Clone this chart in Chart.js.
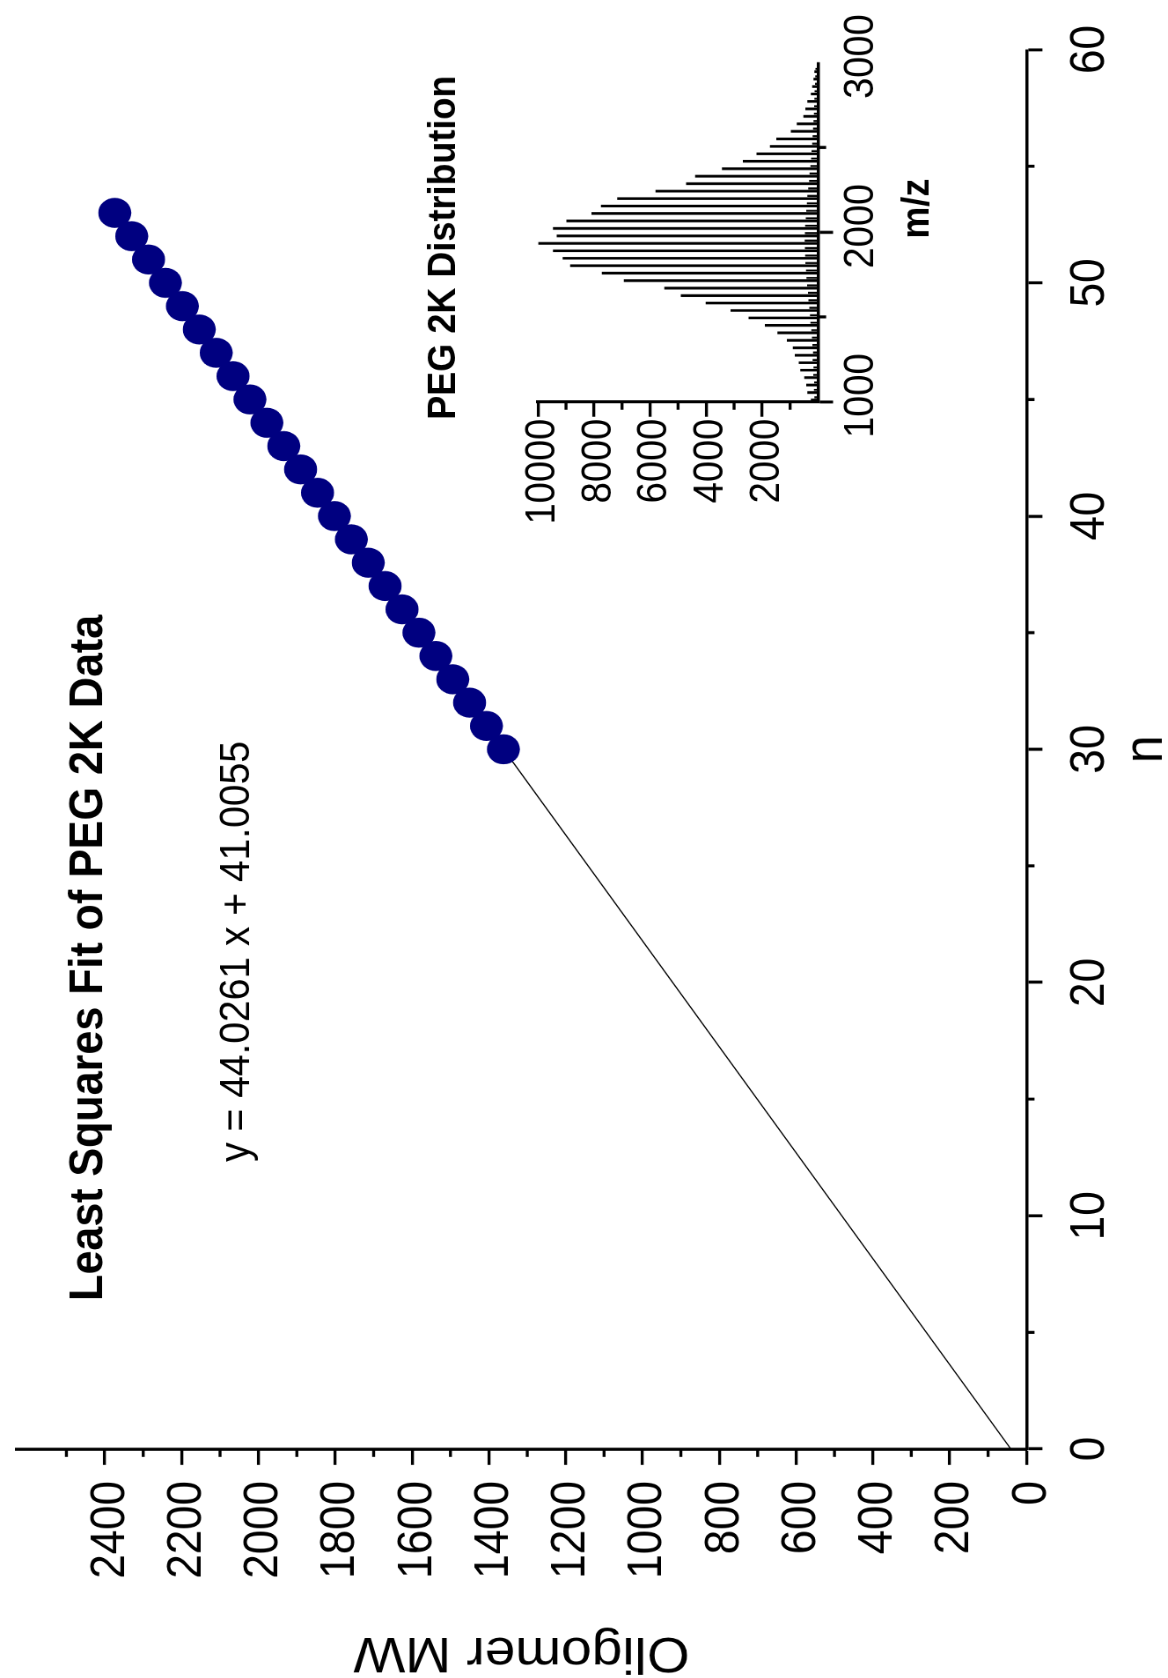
<!DOCTYPE html>
<html>
<head>
<meta charset="utf-8">
<title>Least Squares Fit of PEG 2K Data</title>
<script src="https://cdn.jsdelivr.net/npm/chart.js@4.4.1/dist/chart.umd.min.js"></script>
<style>
  html, body { margin: 0; padding: 0; background: #fff; overflow: hidden; }
  /* the figure is laid out landscape and turned a quarter turn, slightly stretched across */
  #stage {
    position: absolute; left: 0; top: 0;
    width: 1678px; height: 1062px;
    transform-origin: 0 0;
    transform: translateY(1678px) rotate(-90deg) scaleY(1.0998);
  }
  #stage canvas { position: absolute; left: 0; top: 0; }
</style>
</head>
<body>
<div id="stage">
  <canvas id="mainChart" width="1678" height="1062"></canvas>
  <canvas id="insetChart" width="1678" height="1062"></canvas>
</div>
<script>
// main plot: oligomer number vs MW
const nValues = [30, 31, 32, 33, 34, 35, 36, 37, 38, 39, 40, 41, 42, 43, 44, 45, 46, 47, 48, 49, 50, 51, 52, 53];
const mwValues = [1362, 1406, 1450, 1494, 1538, 1582, 1626, 1670, 1714, 1758, 1802, 1846, 1890, 1934, 1978, 2022, 2066, 2110, 2154, 2198, 2242, 2286, 2330, 2374];
const fitN = [0, 53];
const fitMW = [41, 2374];
const nTicks = [0, 10, 20, 30, 40, 50, 60];
const nMinor = [5, 15, 25, 35, 45, 55];
const mwTicks = [0, 200, 400, 600, 800, 1000, 1200, 1400, 1600, 1800, 2000, 2200, 2400];
const mwMinor = [100, 300, 500, 700, 900, 1100, 1300, 1500, 1700, 1900, 2100, 2300, 2500];

// inset: PEG 2K mass spectrum
const mzMajor = [1010, 1054, 1098, 1142, 1186, 1230, 1274, 1318, 1362, 1406, 1450, 1494, 1538, 1582, 1626, 1670, 1714, 1758, 1802, 1846, 1890, 1934, 1978, 2022, 2066, 2110, 2154, 2198, 2242, 2286, 2330, 2374, 2418, 2462, 2506, 2550, 2595, 2639, 2683, 2727, 2771, 2815, 2859, 2903, 2947];
const intMajor = [250, 370, 410, 480, 620, 680, 820, 890, 1100, 1440, 1890, 2470, 3110, 4000, 4890, 5480, 6920, 7710, 8840, 9110, 9450, 9980, 9320, 9450, 8970, 8080, 7740, 7160, 5790, 4700, 4380, 3420, 2670, 2190, 1710, 1480, 960, 750, 510, 440, 370, 250, 200, 150, 120];
const mzMinor = [1026, 1070, 1114, 1158, 1202, 1246, 1290, 1334, 1378, 1422, 1466, 1510, 1554, 1598, 1642, 1686, 1730, 1774, 1818, 1862, 1906, 1950, 1994, 2038, 2082, 2126, 2170, 2214, 2258, 2302, 2346, 2390, 2434, 2478, 2522, 2566, 2611, 2655, 2699, 2743, 2787, 2831, 2875, 2919, 2963];
const intMinor = [120, 140, 130, 160, 150, 180, 170, 190, 210, 230, 260, 280, 300, 330, 350, 380, 400, 420, 440, 450, 460, 470, 460, 450, 430, 410, 390, 370, 340, 310, 290, 260, 240, 220, 200, 180, 170, 150, 140, 130, 120, 110, 100, 90, 80];
const mzTicks = [1000, 2000, 3000];
const mzMinorTicks = [1500, 2500];
const intTicks = [2000, 4000, 6000, 8000, 10000];
const intMinorTicks = [1000, 3000, 5000, 7000, 9000];

Chart.defaults.font.family = "'Liberation Sans', Arial, sans-serif";
Chart.defaults.color = "#000";

// short unlabelled ticks between the major ones
function minorTicks(id, marks) {
  return {
    id: id,
    afterDraw(chart) {
      const ctx = chart.ctx;
      marks.forEach((m) => {
        const scale = chart.scales[m.scale];
        ctx.save();
        ctx.strokeStyle = "#000";
        ctx.lineWidth = m.width;
        m.values.forEach((v) => {
          const p = scale.getPixelForValue(v);
          ctx.beginPath();
          if (scale.isHorizontal()) {
            ctx.moveTo(p, scale.top);
            ctx.lineTo(p, scale.top + m.length);
          } else {
            ctx.moveTo(scale.right, p);
            ctx.lineTo(scale.right - m.length, p);
          }
          ctx.stroke();
        });
        ctx.restore();
      });
    },
  };
}

// free text placed in data units
function textLabels(id, items) {
  return {
    id: id,
    afterDatasetsDraw(chart) {
      const ctx = chart.ctx;
      items.forEach((t) => {
        ctx.save();
        ctx.font = t.font;
        ctx.fillStyle = "#000";
        ctx.textAlign = t.align;
        ctx.textBaseline = "alphabetic";
        ctx.fillText(
          t.text,
          chart.scales.x.getPixelForValue(t.x),
          chart.scales.y.getPixelForValue(t.y)
        );
        ctx.restore();
      });
    },
  };
}

const fontFamily = "'Liberation Sans', Arial, sans-serif";

new Chart(document.getElementById("mainChart"), {
  type: "scatter",
  data: {
    datasets: [
      {
        label: "Oligomer MW",
        data: nValues.map((n, i) => ({ x: n, y: mwValues[i] })),
        backgroundColor: "#000080",
        borderWidth: 0,
        pointRadius: 15,
        pointHoverRadius: 15,
        order: 0,
      },
      {
        label: "Fit",
        data: fitN.map((n, i) => ({ x: n, y: fitMW[i] })),
        showLine: true,
        borderColor: "#000",
        borderWidth: 1.2,
        pointRadius: 0,
        order: 1,
      },
    ],
  },
  options: {
    responsive: false,
    animation: false,
    devicePixelRatio: 1.25,
    events: [],
    layout: { padding: { left: 0, right: 50, top: 11, bottom: 0 } },
    plugins: { legend: { display: false }, tooltip: { enabled: false } },
    scales: {
      x: {
        type: "linear",
        min: 0,
        max: 60,
        afterBuildTicks: (s) => {
          s.ticks = nTicks.map((v) => ({ value: v }));
        },
        afterFit: (s) => {
          s.height = 129;
          s.paddingLeft = 0;
          s.paddingRight = 0;
        },
        border: { color: "#000", width: 2.7 },
        grid: { drawOnChartArea: false, tickLength: 14.5, tickWidth: 3, tickColor: "#000" },
        ticks: { font: { size: 44 }, padding: 17, maxRotation: 0, autoSkip: false, callback: (v) => String(v) },
        title: { display: true, text: "n", font: { size: 50, lineHeight: 0.8 }, padding: { top: 0, bottom: 0 } },
      },
      y: {
        type: "linear",
        min: 0,
        max: 2630,
        afterBuildTicks: (s) => {
          s.ticks = mwTicks.map((v) => ({ value: v }));
        },
        afterFit: (s) => {
          s.width = 229;
          s.paddingTop = 0;
          s.paddingBottom = 0;
        },
        border: { color: "#000", width: 3 },
        grid: { drawOnChartArea: false, tickLength: 16, tickWidth: 2.7, tickColor: "#000" },
        ticks: { font: { size: 44 }, padding: 16, labelOffset: 5, autoSkip: false, callback: (v) => String(v) },
        title: { display: true, text: "Oligomer MW", font: { size: 50, lineHeight: 1 }, padding: { top: 1, bottom: 0 } },
      },
    },
  },
  plugins: [
    minorTicks("mainMinor", [
      { scale: "x", values: nMinor, length: 7.3, width: 3 },
      { scale: "y", values: mwMinor, length: 8, width: 2.7 },
    ]),
    textLabels("mainText", [
      { text: "Least Squares Fit of PEG 2K Data", x: 6.35, y: 2408, align: "left", font: "bold 43px " + fontFamily },
      { text: "y = 44.0261 x + 41.0055", x: 12.31, y: 2025, align: "left", font: "39px " + fontFamily },
    ]),
  ],
});

new Chart(document.getElementById("insetChart"), {
  type: "bar",
  data: {
    datasets: [
      {
        label: "PEG 2K",
        data: mzMajor.map((m, i) => ({ x: m, y: intMajor[i] })),
        backgroundColor: "#000",
        borderWidth: 0,
        barThickness: 2,
        grouped: false,
      },
      {
        label: "minor",
        data: mzMinor.map((m, i) => ({ x: m, y: intMinor[i] })),
        backgroundColor: "#000",
        borderWidth: 0,
        barThickness: 1.3,
        grouped: false,
      },
    ],
  },
  options: {
    responsive: false,
    animation: false,
    devicePixelRatio: 1.25,
    events: [],
    layout: { padding: { left: 1096, right: 63, top: 489, bottom: 0 } },
    plugins: { legend: { display: false }, tooltip: { enabled: false } },
    scales: {
      x: {
        type: "linear",
        min: 1000,
        max: 3000,
        offset: false,
        afterBuildTicks: (s) => {
          s.ticks = mzTicks.map((v) => ({ value: v }));
        },
        afterFit: (s) => {
          s.height = 318.4;
          s.paddingLeft = 0;
          s.paddingRight = 0;
        },
        border: { color: "#000", width: 2.7 },
        grid: {
          offset: false,
          drawOnChartArea: false,
          tickLength: 13.6,
          tickWidth: 3,
          tickColor: (c) => (c.tick && c.tick.value === 3000 ? "rgba(0,0,0,0)" : "#000"),
        },
        ticks: { font: { size: 38 }, padding: 3, labelOffset: 6, maxRotation: 0, autoSkip: false, callback: (v) => String(v) },
      },
      y: {
        type: "linear",
        min: 0,
        max: 10000,
        afterBuildTicks: (s) => {
          s.ticks = intTicks.map((v) => ({ value: v }));
        },
        afterFit: (s) => {
          s.width = 180;
          s.paddingTop = 0;
          s.paddingBottom = 0;
        },
        border: { color: "#000", width: 3 },
        grid: { drawOnChartArea: false, tickLength: 15, tickWidth: 2.7, tickColor: "#000" },
        ticks: { font: { size: 38 }, padding: 2, labelOffset: 4.5, autoSkip: false, callback: (v) => String(v) },
      },
    },
  },
  plugins: [
    minorTicks("insetMinor", [
      { scale: "x", values: mzMinorTicks, length: 7.3, width: 3 },
      { scale: "y", values: intMinorTicks, length: 8, width: 2.7 },
    ]),
    textLabels("insetText", [
      { text: "PEG 2K Distribution", x: 894, y: 12960, align: "left", font: "bold 36px " + fontFamily },
      { text: "m/z", x: 2139, y: -3943, align: "center", font: "bold 36px " + fontFamily },
    ]),
  ],
});
</script>
</body>
</html>
